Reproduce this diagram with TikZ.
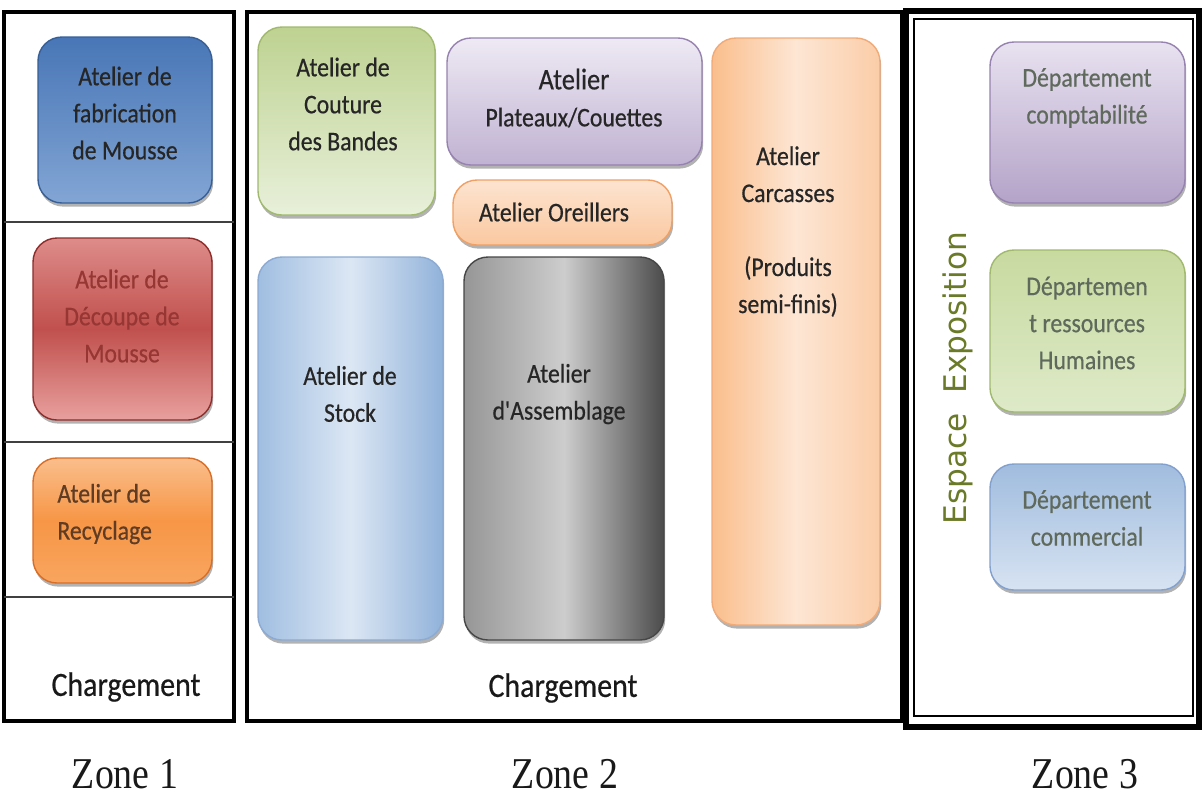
\documentclass[tikz,border=0pt]{standalone}
\usepackage{fontspec}
\setmainfont{Carlito}
\newfontfamily\boxfont{Carlito}[FakeBold=0.5,FakeStretch=0.88]
\newfontfamily\zonefont{Liberation Serif}[FakeStretch=0.86]
\newfontfamily\espfont{DejaVu Sans}
\usetikzlibrary{shadows}
\definecolor{txtdark}{RGB}{38,38,38}
\definecolor{txtred}{RGB}{150,55,52}
\definecolor{txtbrown}{RGB}{95,60,35}
\definecolor{txtgray}{RGB}{95,105,92}
\definecolor{olive}{RGB}{106,122,40}
\begin{document}
\begin{tikzpicture}[x=0.5pt,y=-0.5pt,
  frame/.style={draw=black, line width=2pt},
  rbox/.style={rounded corners=12pt, line width=0.7pt, shading=axis,
    drop shadow={shadow xshift=0.6pt, shadow yshift=-1.8pt, opacity=0.3, fill=black}},
  lbl/.style={font=\boxfont\fontsize{13.5}{18.5}\selectfont, align=center, inner sep=0pt, text=txtdark},
  chg/.style={font=\boxfont\fontsize{17}{19}\selectfont, text=black!90, inner sep=0pt},
  zonelbl/.style={font=\zonefont\fontsize{22}{24}\selectfont, text=black!90, inner sep=0pt},
  divider/.style={line width=0.6pt, draw=black!75}
]
\useasboundingbox (0,0) rectangle (1202,800);

% ---------- Zone 1 ----------
\draw[frame] (4,12) rectangle (234,721);
\draw[divider] (4,222) -- (234,222);
\draw[divider] (4,442) -- (234,442);
\draw[divider] (4,597) -- (234,597);

\node[rbox, draw={rgb,255:red,55;green,95;blue,150}, top color={rgb,255:red,72;green,118;blue,182}, bottom color={rgb,255:red,130;green,165;blue,212},
  minimum width=87pt, minimum height=83pt] (fab) at (125,120) {};
\node[lbl] (fabt) at (125,113) {Atelier de\\fabrication\\de Mousse};

\node[rbox, draw={rgb,255:red,140;green,45;blue,42}, top color={rgb,255:red,222;green,140;blue,138}, bottom color={rgb,255:red,232;green,160;blue,158}, middle color={rgb,255:red,192;green,80;blue,77},
  minimum width=89.5pt, minimum height=91pt] (dec) at (122.5,329) {};
\node[lbl, text=txtred] (dect) at (122,316) {Atelier de\\D\'ecoupe de\\Mousse};

\node[rbox, draw={rgb,255:red,215;green,110;blue,40}, top color={rgb,255:red,250;green,190;blue,140}, bottom color={rgb,255:red,248;green,165;blue,95}, middle color={rgb,255:red,247;green,150;blue,70},
  minimum width=89.5pt, minimum height=62.5pt] (rec) at (122.5,520.5) {};
\node[lbl, text=txtbrown, align=left, anchor=west] (rect) at (57,514) {Atelier de\\Recyclage};

\node[chg] (chg1) at (126,687) {Chargement};

% ---------- Zone 2 ----------
\draw[frame] (247,12) rectangle (902,721);

\node[rbox, draw={rgb,255:red,160;green,185;blue,110}, top color={rgb,255:red,190;green,210;blue,145}, bottom color={rgb,255:red,232;green,240;blue,218},
  minimum width=88.5pt, minimum height=94pt] (cou) at (346.5,121) {};
\node[lbl] (cout) at (343,104) {Atelier de\\Couture\\des Bandes};

\node[rbox, draw={rgb,255:red,150;green,130;blue,175}, top color={rgb,255:red,238;green,234;blue,244}, bottom color={rgb,255:red,192;green,178;blue,210},
  minimum width=127.5pt, minimum height=63.5pt] (pla) at (574.5,101.5) {};
\node[lbl] (plat) at (574,98) {{\fontsize{15}{18.5}\selectfont Atelier}\\Plateaux/Couettes};

\node[rbox, draw={rgb,255:red,240;green,160;blue,100}, top color={rgb,255:red,253;green,228;blue,208}, bottom color={rgb,255:red,250;green,200;blue,160},
  minimum width=109.5pt, minimum height=32.5pt] (ore) at (562.5,212.5) {};
\node[lbl] (oret) at (554,212) {Atelier Oreillers};

\node[rbox, draw={rgb,255:red,140;green,170;blue,210}, left color={rgb,255:red,160;green,190;blue,225}, right color={rgb,255:red,145;green,178;blue,218}, middle color={rgb,255:red,220;green,231;blue,244},
  minimum width=92.5pt, minimum height=191.5pt] (sto) at (350.5,448.5) {};
\node[lbl] (stot) at (350,394) {Atelier de\\Stock};

\node[rbox, draw={rgb,255:red,70;green,70;blue,70}, left color={rgb,255:red,150;green,150;blue,150}, right color={rgb,255:red,75;green,75;blue,75}, middle color={rgb,255:red,205;green,205;blue,205},
  minimum width=100pt, minimum height=191.5pt] (ass) at (564,448.5) {};
\node[lbl] (asst) at (559,394) {Atelier\\d'Assemblage};

\node[rbox, draw={rgb,255:red,240;green,170;blue,120}, left color={rgb,255:red,250;green,190;blue,140}, right color={rgb,255:red,251;green,205;blue,168}, middle color={rgb,255:red,253;green,230;blue,212},
  minimum width=84pt, minimum height=293.5pt] (car) at (796,331.5) {};
\node[lbl] (cart) at (788,231.5) {Atelier\\Carcasses\\[18.5pt](Produits\\semi-finis)};

\node[chg] (chg2) at (563,688) {Chargement};

% ---------- Zone 3 ----------
\draw[line width=3pt] (906,11) rectangle (1199,727);
\draw[line width=0.8pt] (914,19) rectangle (1193,716);

\node[inner sep=0pt, rotate=90, text=olive, font=\espfont\fontsize{15.6}{18}\selectfont] (esp) at (958,378) {Espace\ \ Exposition};

\node[rbox, draw={rgb,255:red,150;green,130;blue,175}, top color={rgb,255:red,232;green,226;blue,240}, bottom color={rgb,255:red,180;green,163;blue,200},
  minimum width=97.5pt, minimum height=80.5pt] (cpt) at (1087.5,122.5) {};
\node[lbl, text=txtgray] (cptt) at (1087,98) {D\'epartement\\comptabilit\'e};

\node[rbox, draw={rgb,255:red,160;green,185;blue,110}, top color={rgb,255:red,200;green,218;blue,160}, bottom color={rgb,255:red,222;green,234;blue,200},
  minimum width=97.5pt, minimum height=81pt] (rh) at (1087.5,331) {};
\node[lbl, text=txtgray] (rht) at (1087,323) {D\'epartemen\\t ressources\\Humaines};

\node[rbox, draw={rgb,255:red,130;green,160;blue,205}, top color={rgb,255:red,160;green,188;blue,222}, bottom color={rgb,255:red,215;green,227;blue,242},
  minimum width=97.5pt, minimum height=63pt] (com) at (1087.5,527) {};
\node[lbl, text=txtgray] (comt) at (1087,518) {D\'epartement\\commercial};

% ---------- Zone labels ----------
\node[zonelbl] (z1) at (125,774) {Zone 1};
\node[zonelbl] (z2) at (565,774) {Zone 2};
\node[zonelbl] (z3) at (1085,774) {Zone 3};
\end{tikzpicture}
\end{document}
